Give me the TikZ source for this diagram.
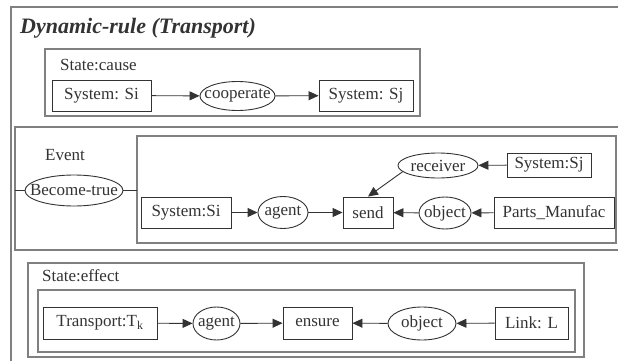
\documentclass[tikz,border=0pt]{standalone}
\usepackage{fontspec}
\setmainfont{Liberation Serif}
\usetikzlibrary{shapes.geometric,arrows.meta}
\definecolor{ink}{HTML}{333333}
\definecolor{framec}{HTML}{808080}
\newcommand{\ovtext}[1]{\makebox[0pt]{#1}}
\tikzset{
  frame/.style={draw=framec,line width=1.2pt},
  box/.style={draw=ink,line width=0.9pt,rectangle,inner sep=0pt,text=ink,font=\fontsize{17}{19}\selectfont},
  oval/.style={draw=ink,line width=0.9pt,ellipse,inner sep=0pt,text=ink,font=\fontsize{17}{19}\selectfont},
  lab/.style={anchor=west,inner sep=0pt,text=ink,font=\fontsize{17}{19}\selectfont},
  conn/.style={draw=ink,line width=0.9pt,-{Triangle[length=10pt,width=9pt]}},
  plain/.style={draw=ink,line width=0.9pt}
}
\begin{document}
\begin{tikzpicture}[x=1pt,y=-1pt]
\useasboundingbox (0,0) rectangle (618,361);
\fill[white] (0,0) rectangle (618,361);
\clip (0,0) rectangle (618,361);
% frames
\draw[frame] (11,7) rectangle (640,380);
\draw[frame] (45,49) rectangle (420,116);
\draw[frame] (15,127) rectangle (640,250);
\draw[frame] (137,136) rectangle (616,243);
\draw[frame] (28,263) rectangle (584,357);
\draw[frame] (38,290) rectangle (575,352);
% labels
\node[anchor=west,inner sep=0pt,text=ink,font=\fontsize{22}{26}\selectfont\bfseries\itshape] (title) at (20,28.5) {Dynamic-rule (Transport)};
\node[lab] (lcause) at (60,65) {State:cause};
\node[lab] (levent) at (45,155) {Event};
\node[lab] (leffect) at (42,276) {State:effect};
% cause
\node[box,minimum width=99pt,minimum height=31pt] (siA) at (101.5,95.5) {System: Si};
\node[oval,minimum width=75pt,minimum height=29pt] (coop) at (237.5,96) {\ovtext{cooperate}};
\node[box,minimum width=94pt,minimum height=31pt] (sjA) at (366,95.5) {System: Sj};
\draw[conn] (siA) -- (coop);
\draw[conn] (coop) -- (sjA);
% event
\node[oval,minimum width=98pt,minimum height=31pt] (become) at (74,190.5) {\ovtext{Become-true}};
\coordinate (evL) at (15,190.5);
\coordinate (inL) at (137,190.5);
\draw[plain] (evL) -- (become);
\draw[plain] (become) -- (inL);
\node[box,minimum width=90pt,minimum height=31pt] (siB) at (186,212.5) {System:Si};
\node[oval,minimum width=50pt,minimum height=32pt] (agentB) at (283,212.5) {\ovtext{agent}};
\node[box,minimum width=50pt,minimum height=31pt] (send) at (368,212.5) {send};
\node[oval,minimum width=52pt,minimum height=32pt] (objB) at (445,213) {\ovtext{object}};
\node[box,minimum width=120pt,minimum height=31pt] (parts) at (554,212.5) {Parts\_Manufac};
\node[oval,minimum width=80pt,minimum height=25pt] (recv) at (438,165.5) {\ovtext{receiver}};
\node[box,minimum width=84pt,minimum height=24pt] (sjB) at (549,165) {System:Sj};
\draw[conn] (siB) -- (agentB);
\draw[conn] (agentB) -- (send);
\draw[conn] (objB) -- (send);
\draw[conn] (parts) -- (objB);
\draw[conn] (sjB) -- (recv);
\draw[conn] (recv.190) -- (send.north);
% effect
\node[box,minimum width=114pt,minimum height=32pt] (trans) at (100,323) {Transport:T\textsubscript{k}};
\node[oval,minimum width=47pt,minimum height=33pt] (agentC) at (216.5,323.5) {\ovtext{agent}};
\node[box,minimum width=69pt,minimum height=32pt] (ensure) at (317.5,323) {ensure};
\node[oval,minimum width=68pt,minimum height=33pt] (objC) at (422,323.5) {\ovtext{object}};
\node[box,minimum width=73pt,minimum height=32pt] (link) at (531.5,323) {Link: L};
\draw[conn] (trans) -- (agentC);
\draw[conn] (agentC) -- (ensure);
\draw[conn] (objC) -- (ensure);
\draw[conn] (link) -- (objC);
\end{tikzpicture}
\end{document}
